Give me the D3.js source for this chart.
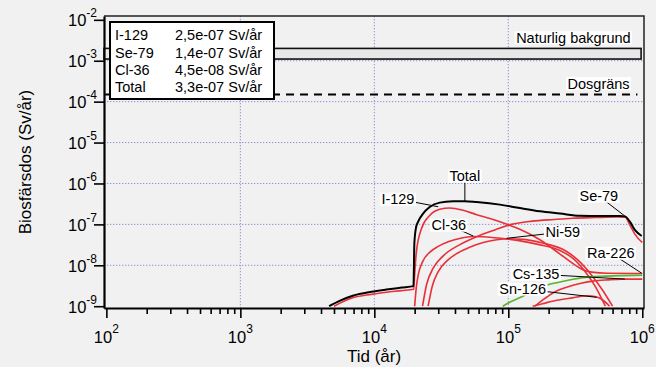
<!DOCTYPE html>
<html>
<head>
<meta charset="utf-8">
<script src="https://cdn.jsdelivr.net/npm/d3@7"></script>
<style>
  html, body { margin: 0; padding: 0; background: #f1f1f1; }
  svg { display: block; font-family: "Liberation Sans", Arial, Helvetica, sans-serif; }
</style>
</head>
<body>
<div id="chart"></div>
<script>
// legend: max dose per nuclide
const legendNuclides = ['I-129', 'Se-79', 'Cl-36', 'Total'];
const legendMax = ['2,5e-07 Sv/år', '1,4e-07 Sv/år', '4,5e-08 Sv/år', '3,3e-07 Sv/år'];

const xTicks = [1e2, 1e3, 1e4, 1e5, 1e6];
const yTicks = [1e-9, 1e-8, 1e-7, 1e-6, 1e-5, 1e-4, 1e-3, 1e-2];

const naturalBackground = [1.1e-3, 2e-3];
const doseLimit = 1.5e-4;

// [time (år), dose (Sv/år)]
const total = [
  [4.6e3, 1.0e-9], [5.5e3, 1.35e-9], [6.9e3, 1.8e-9], [9.5e3, 2.25e-9], [1.23e4, 2.55e-9],
  [1.6e4, 2.85e-9], [1.96e4, 3.1e-9], [1.99e4, 3.5e-8], [2.05e4, 8.5e-8], [2.12e4, 1.15e-7],
  [2.31e4, 1.83e-7], [2.59e4, 2.66e-7], [3.08e4, 3.4e-7], [3.88e4, 3.66e-7], [4.74e4, 3.7e-7],
  [5.8e4, 3.52e-7], [8.65e4, 3.04e-7], [1.22e5, 2.5e-7], [1.72e5, 2.09e-7], [2.43e5, 1.84e-7],
  [3.43e5, 1.62e-7], [4.84e5, 1.6e-7], [6.83e5, 1.6e-7], [7.43e5, 1.57e-7], [8.1e5, 1.15e-7],
  [8.83e5, 7.2e-8], [9.9e5, 5.2e-8]
];
const i129 = [
  [5.0e3, 1.0e-9], [6.9e3, 1.6e-9], [9.5e3, 1.95e-9], [1.23e4, 2.2e-9], [1.6e4, 2.4e-9],
  [1.97e4, 2.6e-9], [2.0e4, 6e-9], [2.06e4, 2.1e-8], [2.25e4, 7.9e-8], [2.6e4, 1.67e-7],
  [3.08e4, 2.34e-7], [3.66e4, 2.51e-7], [4.6e4, 2.21e-7], [5.8e4, 1.73e-7], [7.3e4, 1.39e-7],
  [9.9e4, 9.9e-8], [1.22e5, 7.6e-8], [1.72e5, 4.2e-8], [2.16e5, 2.5e-8], [2.6e5, 1.6e-8],
  [3.1e5, 1.05e-8], [3.6e5, 7.8e-9], [4.2e5, 6.8e-9], [5.5e5, 6.4e-9], [1e6, 6.3e-9]
];
const se79 = [
  [2.29e4, 1.0e-9], [2.45e4, 3.3e-9], [2.75e4, 8.5e-9], [3.27e4, 1.7e-8], [4.35e4, 3.2e-8],
  [5.8e4, 5.0e-8], [8.0e4, 7.4e-8], [1.05e5, 1.0e-7], [1.5e5, 1.2e-7], [2.2e5, 1.32e-7],
  [3.0e5, 1.41e-7], [4.5e5, 1.47e-7], [6.5e5, 1.51e-7], [7.45e5, 1.5e-7], [8.1e5, 9.5e-8],
  [8.8e5, 5.8e-8], [1e6, 3.6e-8]
];
const cl36 = [
  [2.0e4, 1.0e-9], [2.06e4, 3e-9], [2.13e4, 6e-9], [2.3e4, 1.25e-8], [2.6e4, 2.1e-8],
  [3.0e4, 2.9e-8], [3.6e4, 3.8e-8], [4.4e4, 4.6e-8], [5.4e4, 5.05e-8], [6.5e4, 5.0e-8],
  [8.0e4, 4.7e-8], [1.2e5, 4.0e-8], [1.7e5, 3.2e-8], [2.43e5, 2.3e-8], [3.1e5, 1.4e-8],
  [3.8e5, 6.6e-9], [4.5e5, 2.9e-9], [5.3e5, 1.0e-9]
];
const ni59 = [
  [2.52e4, 1.0e-9], [2.7e4, 3e-9], [3.0e4, 7e-9], [3.5e4, 1.3e-8], [4.2e4, 2.0e-8],
  [5.2e4, 2.8e-8], [6.5e4, 3.6e-8], [8.2e4, 4.2e-8], [1.0e5, 4.45e-8], [1.3e5, 4.3e-8],
  [1.8e5, 3.5e-8], [2.65e5, 2.3e-8], [3.3e5, 1.35e-8], [4.07e5, 6.4e-9], [5.0e5, 2.6e-9],
  [6.0e5, 1.0e-9]
];
const ra226 = [
  [1.58e5, 1.0e-9], [1.8e5, 1.4e-9], [2.2e5, 2.2e-9], [2.8e5, 3.0e-9], [3.43e5, 3.6e-9],
  [4.3e5, 4.1e-9], [5.5e5, 4.4e-9], [7e5, 4.6e-9], [1e6, 4.6e-9]
];
const sn126 = [
  [1.52e5, 1.0e-9], [1.8e5, 1.15e-9], [2.3e5, 1.4e-9], [3.0e5, 1.6e-9], [3.9e5, 1.8e-9],
  [4.5e5, 1.7e-9], [5.1e5, 1.4e-9], [5.7e5, 1.0e-9]
];
const cs135 = [
  [9.1e4, 1.0e-9], [1.0e5, 1.2e-9], [1.26e5, 1.7e-9], [1.72e5, 2.9e-9], [2.43e5, 3.9e-9],
  [3.6e5, 5.0e-9], [5e5, 5.4e-9], [7e5, 5.6e-9], [1e6, 5.7e-9]
];

const redSeries = [i129, se79, cl36, ni59, ra226, sn126];

// label position and pointer target, in data units
const callouts = [
  { text: 'Total', at: [4.74e4, 1.52e-6], to: [4.74e4, 3.7e-7] },
  { text: 'I-129', at: [1.5e4, 4.17e-7], to: [3.0e4, 2.7e-7] },
  { text: 'Cl-36', at: [3.6e4, 9.66e-8], to: [5.47e4, 5.2e-8] },
  { text: 'Ni-59', at: [2.55e5, 6.5e-8], to: [9.7e4, 4.57e-8] },
  { text: 'Se-79', at: [4.74e5, 4.94e-7], to: [7.41e5, 1.6e-7] },
  { text: 'Ra-226', at: [5.82e5, 2.0e-8], to: [9.9e5, 6.4e-9] },
  { text: 'Cs-135', at: [1.61e5, 6.1e-9], to: [7.41e5, 4.6e-9] },
  { text: 'Sn-126', at: [1.28e5, 2.65e-9], to: [4.56e5, 1.65e-9] },
  { text: 'Naturlig bakgrund', at: [3.06e5, 3.7e-3] },
  { text: 'Dosgräns', at: [4.72e5, 2.78e-4] }
];

const W = 656, H = 367;
const margin = { top: 16, right: 12, bottom: 59, left: 104 };
const width = W - margin.left - margin.right;
const height = H - margin.top - margin.bottom;

const svg = d3.select('#chart').append('svg')
  .attr('width', W)
  .attr('height', H);

const g = svg.append('g')
  .attr('transform', `translate(${margin.left}, ${margin.top})`);

const x = d3.scaleLog().domain([96, 1.03e6]).range([0, width]);
const y = d3.scaleLog().domain([9.04e-10, 1.24e-2]).range([height, 0]);

// grid
const gridColor = '#8e8ed8';
g.append('g').selectAll('line')
  .data(xTicks.slice(1, -1))
  .join('line')
  .attr('x1', d => x(d)).attr('x2', d => x(d))
  .attr('y1', 0).attr('y2', height)
  .attr('stroke', gridColor).attr('stroke-width', 1).attr('stroke-dasharray', '1.3,1.7');
g.append('g').selectAll('line')
  .data(yTicks.slice(1, -1))
  .join('line')
  .attr('y1', d => y(d)).attr('y2', d => y(d))
  .attr('x1', 0).attr('x2', width)
  .attr('stroke', gridColor).attr('stroke-width', 1).attr('stroke-dasharray', '1.3,1.7');

// natural background band and dose limit
g.append('rect')
  .attr('x', x(96))
  .attr('y', y(naturalBackground[1]))
  .attr('width', x(9.8e5) - x(96))
  .attr('height', y(naturalBackground[0]) - y(naturalBackground[1]))
  .attr('fill', '#e8e8e8')
  .attr('stroke', '#111')
  .attr('stroke-width', 1.6);

g.append('line')
  .attr('x1', 0).attr('x2', x(9.2e5))
  .attr('y1', y(doseLimit)).attr('y2', y(doseLimit))
  .attr('stroke', '#000').attr('stroke-width', 2).attr('stroke-dasharray', '8,6');

// curves
g.append('clipPath').attr('id', 'plot-clip')
  .append('rect').attr('width', width).attr('height', height);

const line = d3.line()
  .x(d => x(d[0]))
  .y(d => y(d[1]))
  .curve(d3.curveMonotoneX);

const curves = g.append('g').attr('clip-path', 'url(#plot-clip)').attr('fill', 'none');

curves.selectAll('path.red')
  .data(redSeries)
  .join('path')
  .attr('class', 'red')
  .attr('d', line)
  .attr('stroke', '#e8303a')
  .attr('stroke-width', 1.6);

curves.append('path')
  .attr('d', line(cs135))
  .attr('stroke', '#58b42c')
  .attr('stroke-width', 1.6);

curves.append('path')
  .attr('d', line(total))
  .attr('stroke', '#000')
  .attr('stroke-width', 2);

// callouts
const notes = g.append('g').attr('font-size', 14.5);
callouts.forEach(c => {
  const cx = x(c.at[0]), cy = y(c.at[1]);
  if (c.to) {
    notes.append('line')
      .attr('x1', cx).attr('y1', cy)
      .attr('x2', x(c.to[0])).attr('y2', y(c.to[1]))
      .attr('stroke', '#000').attr('stroke-width', 1);
  }
  const bgRect = notes.append('rect').attr('fill', '#fff');
  const t = notes.append('text')
    .attr('x', cx).attr('y', cy)
    .attr('dy', '0.36em')
    .attr('text-anchor', 'middle')
    .text(c.text);
  const bb = t.node().getBBox();
  bgRect.attr('x', bb.x - 1.5).attr('y', bb.y + 1.5)
    .attr('width', bb.width + 3).attr('height', bb.height - 3);
});

// legend
const legend = g.append('g').attr('transform', 'translate(6, 6)');
legend.append('rect')
  .attr('width', 164).attr('height', 77)
  .attr('fill', '#fff').attr('stroke', '#000').attr('stroke-width', 2);
legend.selectAll('text.name')
  .data(legendNuclides)
  .join('text')
  .attr('class', 'name')
  .attr('x', 5)
  .attr('y', (d, i) => 18.3 + i * 17.2)
  .attr('font-size', 14.5)
  .text(d => d);
legend.selectAll('text.val')
  .data(legendMax)
  .join('text')
  .attr('class', 'val')
  .attr('x', 65)
  .attr('y', (d, i) => 18.3 + i * 17.2)
  .attr('font-size', 14.5)
  .text(d => d);

// frame top/right
g.append('path')
  .attr('d', `M0,0H${width}V${height}`)
  .attr('fill', 'none').attr('stroke', '#222').attr('stroke-width', 1.5);

// axes
const minorX = [];
xTicks.slice(0, -1).forEach(d => { for (let k = 2; k < 10; k++) minorX.push(d * k); });

g.append('g')
  .attr('transform', `translate(0, ${height})`)
  .call(d3.axisBottom(x).tickValues(xTicks).tickSize(10).tickSizeOuter(0).tickFormat(''));
g.append('g')
  .attr('transform', `translate(0, ${height})`)
  .call(d3.axisBottom(x).tickValues(minorX).tickSize(6).tickSizeOuter(0).tickFormat(''))
  .call(a => a.select('.domain').remove());
g.append('g')
  .call(d3.axisLeft(y).tickValues(yTicks).tickSize(10).tickSizeOuter(0).tickFormat(''));

g.selectAll('.domain').attr('stroke', '#000').attr('stroke-width', 2.2);
g.selectAll('.tick line').attr('stroke', '#000').attr('stroke-width', 1.6);

g.append('g').selectAll('text')
  .data(xTicks)
  .join('text')
  .attr('x', d => x(d))
  .attr('y', height + 35)
  .attr('text-anchor', 'middle')
  .attr('font-size', 16.5)
  .each(function (d) {
    const t = d3.select(this);
    t.append('tspan').text('10');
    t.append('tspan').attr('dy', -10).attr('font-size', 12).text(Math.round(Math.log10(d)));
  });

g.append('g').selectAll('text')
  .data(yTicks)
  .join('text')
  .attr('x', -7)
  .attr('y', d => y(d) + 6.5)
  .attr('text-anchor', 'end')
  .attr('font-size', 16.5)
  .each(function (d) {
    const t = d3.select(this);
    t.append('tspan').text('10');
    t.append('tspan').attr('dy', -9).attr('font-size', 12).text(Math.round(Math.log10(d)));
  });

// axis titles
svg.append('text')
  .attr('x', margin.left + width / 2)
  .attr('y', H - 5)
  .attr('text-anchor', 'middle')
  .attr('font-size', 17)
  .text('Tid (år)');

svg.append('text')
  .attr('transform', `translate(31, ${margin.top + height / 2}) rotate(-90)`)
  .attr('text-anchor', 'middle')
  .attr('font-size', 17)
  .text('Biosfärsdos (Sv/år)');
</script>
</body>
</html>
